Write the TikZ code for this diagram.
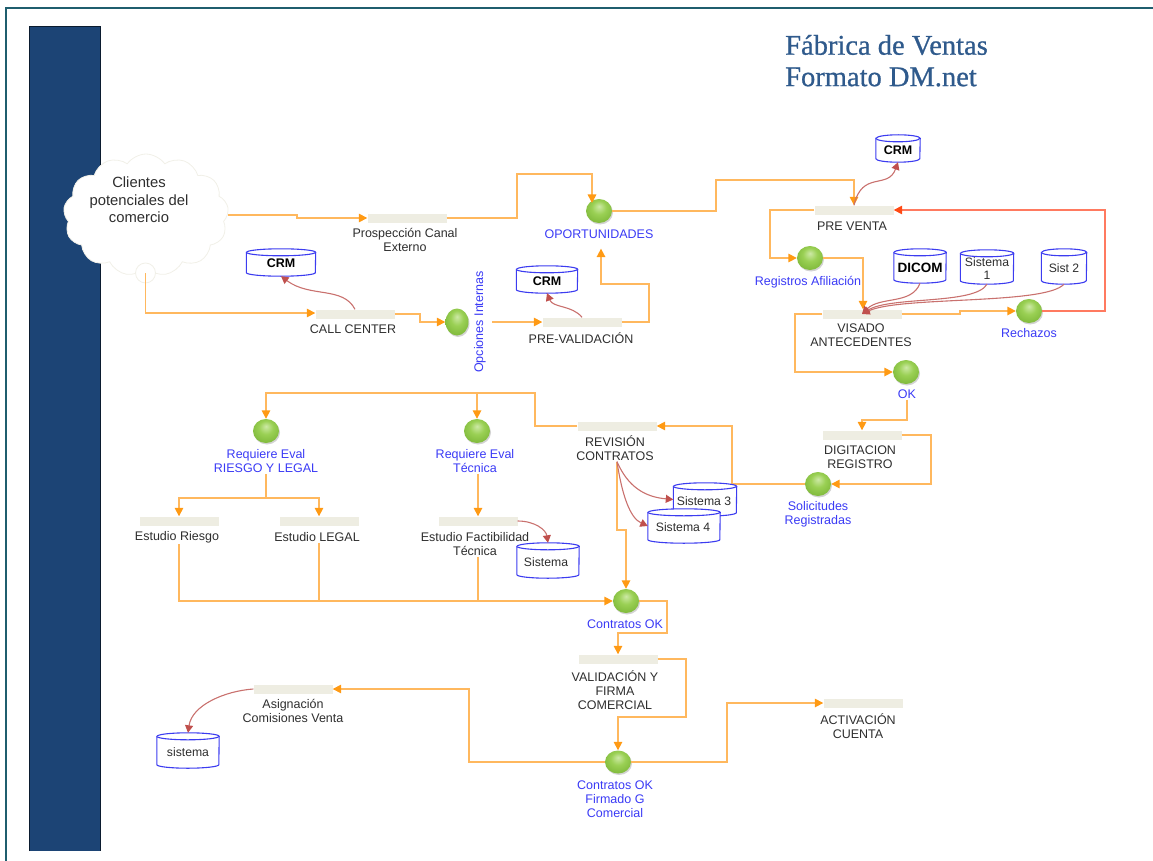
\documentclass[tikz,border=0pt]{standalone}
\usepackage{fontspec}
\setmainfont{Liberation Sans}
\newfontfamily\titlefont[FakeBold=0.8]{Liberation Serif}
\usetikzlibrary{arrows.meta,shapes.geometric,shapes.symbols,shadows}
\definecolor{barblue}{HTML}{1C4475}
\definecolor{frameteal}{HTML}{1F5E6E}
\definecolor{flowline}{HTML}{FFB85E}
\definecolor{flowtip}{HTML}{FF9A14}
\definecolor{backline}{HTML}{FF7A60}
\definecolor{backtip}{HTML}{FF4A14}
\definecolor{dataline}{HTML}{C9716E}
\definecolor{datatip}{HTML}{C0504D}
\definecolor{dbblue}{HTML}{3C3CF0}
\definecolor{lblblue}{HTML}{3A3AF5}
\definecolor{lblgrey}{HTML}{2E2E2E}
\definecolor{tasksand}{HTML}{EEEDE2}
\definecolor{puffline}{HTML}{F1F0E8}
\definecolor{ballhi}{HTML}{CDE9A6}
\definecolor{ballmid}{HTML}{9AD054}
\definecolor{ballgreen}{HTML}{78B334}
\definecolor{titleblue}{HTML}{2F5A8C}
\pgfdeclareradialshading{greenball}{\pgfpoint{0bp}{10bp}}{color(0bp)=(ballhi); color(14bp)=(ballmid); color(34bp)=(ballgreen); color(50bp)=(ballgreen!80!black)}
% store: name, x, y, width, height
\newcommand{\dbstore}[5]{
  \node[dbbox,minimum width=#4,minimum height=#5] (#1) at (#2,#3) {};
  \draw[dbline] (#1.north west)++(0pt,-3.5pt) -- ([yshift=3.5pt]#1.south west)
    arc[start angle=180,end angle=360,x radius=#4/2,y radius=3.5pt]
    -- ([yshift=-3.5pt]#1.north east)
    arc[start angle=0,end angle=180,x radius=#4/2,y radius=3.5pt] -- cycle;
  \draw[dbline] ([yshift=-3.5pt]#1.north west) arc[start angle=180,end angle=360,x radius=#4/2,y radius=3.5pt];
}

\begin{document}
\begin{tikzpicture}[x=1pt,y=-1pt,
    txt/.style={font=\fontsize{12.5}{14}\selectfont,align=center,inner sep=1pt,text=lblgrey},
    blue lbl/.style={txt,text=lblblue},
    task/.style={rectangle,fill=tasksand,inner sep=0pt,minimum width=79pt,minimum height=9pt},
    ball/.style={ellipse,inner sep=0pt,minimum width=26pt,minimum height=24pt,shading=greenball,
      drop shadow={shadow xshift=1pt,shadow yshift=-1.5pt,opacity=.35}},
    dbbox/.style={rectangle,inner sep=0pt},
    dbline/.style={draw=dbblue,line width=1.1pt,fill=white},
    dbtxt/.style={font=\fontsize{12.2}{13}\selectfont,align=center,inner sep=0pt,text=lblgrey},
    dbbold/.style={font=\fontsize{12.5}{13}\bfseries\selectfont,inner sep=0pt,text=black},
    title/.style={anchor=west,inner sep=0pt,text=titleblue,font=\titlefont\fontsize{28.5}{30}\selectfont},
    flow/.style={draw=flowline,line width=1.6pt,-{Triangle[length=8.5pt,width=8.5pt,color=flowtip]}},
    plainflow/.style={draw=flowline,line width=1.6pt},
    back/.style={draw=backline,line width=1.6pt,-{Triangle[length=8.5pt,width=8.5pt,color=backtip]}},
    data/.style={draw=dataline,line width=1.1pt,-{Triangle[length=7.5pt,width=8pt,color=datatip]}}]
  \useasboundingbox (0,0) rectangle (1153,861);

  \draw[frameteal,line width=1.5pt] (6,861)--(6,8)--(1153,8);
  \fill[barblue] (29,26) rectangle (100,851);
  \draw[black!60!barblue,line width=.6pt] (29,851)--(29,26)--(100,26)--(100,851);

  \node[title] (titulo1) at (785,45) {Fábrica de Ventas};
  \node[title] (titulo2) at (785,77) {Formato DM.net};

  % cloud
  \node[cloud,cloud puffs=13,cloud puff arc=110,draw=puffline,fill=white,line width=.8pt,minimum width=165pt,minimum height=122pt,inner sep=0pt] (clientes) at (146,215) {};
  \node[circle,draw=puffline,fill=white,line width=.8pt,minimum size=20pt,inner sep=0pt] (puff) at (145.5,273) {};
  \node[txt,font=\fontsize{14.8}{17.5}\selectfont] (clienteslbl) at (139,200) {Clientes\\potenciales del\\comercio};

  % tasks
  \node[task] (prospeccion) at (407,218) {};
  \node[task] (callcenter) at (355,314) {};
  \node[task] (prevalida) at (582,322) {};
  \node[task] (preventa) at (854,210) {};
  \node[task] (visado) at (862,314) {};
  \node[task] (digitacion) at (862,435) {};
  \node[task] (revision) at (617,426) {};
  \node[task] (riesgo) at (179,521) {};
  \node[task] (legal) at (319,521) {};
  \node[task] (factible) at (478,521) {};
  \node[task] (validacion) at (618,659) {};
  \node[task] (asignacion) at (293,689) {};
  \node[task] (activacion) at (863,703) {};

  \node[txt] (prospeccionlbl) at (405,240) {Prospección Canal\\Externo};
  \node[txt] (callcenterlbl) at (353,329) {CALL CENTER};
  \node[txt] (prevalidalbl) at (581,338) {PRE-VALIDACIÓN};
  \node[txt] (preventalbl) at (852,226) {PRE VENTA};
  \node[txt] (visadolbl) at (861,335) {VISADO\\ANTECEDENTES};
  \node[txt] (digitacionlbl) at (860,457) {DIGITACION\\REGISTRO};
  \node[txt] (revisionlbl) at (615,448) {REVISIÓN\\CONTRATOS};
  \node[txt] (riesgolbl) at (177,537) {Estudio Riesgo};
  \node[txt] (legallbl) at (317,537) {Estudio LEGAL};
  \node[txt] (factiblelbl) at (475,544) {Estudio Factibilidad\\Técnica};
  \node[txt] (validacionlbl) at (615,690) {VALIDACIÓN Y\\FIRMA\\COMERCIAL};
  \node[txt] (asignacionlbl) at (293,711) {Asignación\\Comisiones Venta};
  \node[txt] (activacionlbl) at (858,726) {ACTIVACIÓN\\CUENTA};

  % states
  \node[ball] (oportunidad) at (599,211) {};
  \node[ball,minimum width=23pt,minimum height=27pt] (opciones) at (457,322) {};
  \node[ball] (registros) at (810,258) {};
  \node[ball] (rechazos) at (1029,311) {};
  \node[ball] (okvisado) at (906,372) {};
  \node[ball] (solicitudes) at (818,484) {};
  \node[ball] (reqriesgo) at (266,431) {};
  \node[ball] (reqtecnica) at (477,431) {};
  \node[ball] (contratos) at (626,601) {};
  \node[ball,minimum height=23pt] (firmado) at (618,762) {};

  \node[blue lbl] (oportunidadlbl) at (599,234) {OPORTUNIDADES};
  \node[blue lbl,rotate=90] (opcioneslbl) at (480,322) {Opciones Internas};
  \node[blue lbl] (registroslbl) at (808,282) {Registros Afiliación};
  \node[blue lbl] (rechazoslbl) at (1029,333) {Rechazos};
  \node[blue lbl] (oklbl) at (907,394) {OK};
  \node[blue lbl] (solicitudeslbl) at (818,514) {Solicitudes\\Registradas};
  \node[blue lbl] (reqriesgolbl) at (266,461) {Requiere Eval\\RIESGO Y LEGAL};
  \node[blue lbl] (reqtecnicalbl) at (475,461) {Requiere Eval\\Técnica};
  \node[blue lbl] (contratoslbl) at (625,624) {Contratos OK};
  \node[blue lbl] (firmadolbl) at (615,799) {Contratos OK\\Firmado G\\Comercial};

  % flows
  \draw[flow] (clientes.east |- 297,215)--(297,215)--(297,218)--(prospeccion.west);
  \draw[flow] (prospeccion.east)--(517,218)--(517,174)--(592,174)--(592,203);
  \draw[flow] (puff.center)--(145.5,313)--(callcenter.west |- 0,313);
  \draw[flow] (callcenter.east)--(420,314)--(420,322)--(opciones.west);
  \draw[flow,shorten <=5pt] (opcioneslbl.south)--(prevalida.west);
  \draw[flow,shorten >=9pt] (prevalida.east)--(649,322)--(649,284)--(601,284)--(oportunidadlbl.south -| 601,0);
  \draw[flow] (oportunidad.east)--(716,211)--(716,180)--(854,180)--(preventa.north);
  \draw[flow] (preventa.west)--(770,210)--(770,258)--(registros.west);
  \draw[flow] (registros.east)--(863,258)--(visado.north -| 863,0);
  \draw[flow] (visado.east)--(960,314)--(960,311)--(rechazos.west);
  \draw[back] (rechazos.east)--(1105,311)--(1105,210)--(preventa.east);
  \draw[flow] (visado.west)--(795,314)--(795,372)--(okvisado.west);
  \draw[flow] (oklbl.south)--(907,420)--(862,420)--(digitacion.north);
  \draw[flow] (digitacion.east)--(931,435)--(931,484)--(solicitudes.east);
  \draw[flow] (solicitudes.west)--(732,484)--(732,426)--(revision.east);
  \draw[flow] (revision.west)--(535,426)--(535,393)--(266,393)--(reqriesgo.north);
  \draw[flow] (535,393)--(477,393)--(reqtecnica.north);
  \draw[plainflow] (reqriesgolbl.south)--(266,498);
  \draw[flow] (266,498)--(179,498)--(riesgo.north);
  \draw[flow] (266,498)--(319,498)--(legal.north);
  \draw[flow] (reqtecnicalbl.south -| 478,0)--(factible.north);
  \draw[flow] (riesgolbl.south -| 179,0)--(179,601)--(contratos.west);
  \draw[plainflow] (legallbl.south -| 319,0)--(319,601);
  \draw[plainflow] (factiblelbl.south -| 478,0)--(478,601);
  \draw[flow] (revisionlbl.south -| 617,0)--(617,530)--(626,530)--(contratos.north);
  \draw[flow] (contratos.east)--(667,601)--(667,633)--(618,633)--(validacion.north);
  \draw[flow] (validacion.east)--(686,659)--(686,717)--(618,717)--(firmado.north);
  \draw[flow] (firmado.west)--(469,762)--(469,689)--(asignacion.east);
  \draw[flow] (firmado.east)--(727,762)--(727,703)--(activacion.west);

  % stores
  \dbstore{crmcall}{281}{262.5}{69pt}{27pt}
  \dbstore{crmprev}{547}{279.5}{61pt}{27pt}
  \dbstore{crmventa}{898}{148.5}{44pt}{27pt}
  \dbstore{dicom}{920}{266}{52pt}{34pt}
  \dbstore{sistuno}{987}{267}{53pt}{34pt}
  \dbstore{sistdos}{1064}{266.5}{45pt}{35pt}
  \dbstore{sisttres}{705}{499.5}{63pt}{33pt}
  \dbstore{sistcuatro}{684}{526}{72pt}{34pt}
  \dbstore{sistema}{548}{560.5}{62pt}{35pt}
  \dbstore{sistemab}{188}{750.5}{62pt}{35pt}

  \node[dbbold] (crmcalllbl) at (281,263) {CRM};
  \node[dbbold] (crmprevlbl) at (547,281) {CRM};
  \node[dbbold] (crmventalbl) at (898,150) {CRM};
  \node[dbbold,font=\fontsize{13.5}{14}\bfseries\selectfont] (dicomlbl) at (920,268) {DICOM};
  \node[dbtxt] (sistunolbl) at (987,269) {Sistema\\1};
  \node[dbtxt] (sistdoslbl) at (1064,268) {Sist 2};
  \node[dbtxt] (sisttreslbl) at (704,501) {Sistema 3};
  \node[dbtxt] (sistcuatrolbl) at (683,527) {Sistema 4};
  \node[dbtxt] (sistemalbl) at (546,562) {Sistema};
  \node[dbtxt] (sistemablbl) at (188,752) {sistema};

  % links to stores
  \draw[data] (callcenter.north) .. controls (343,286) and (310,298) .. (crmcall.south);
  \draw[data] (prevalida.north) .. controls (572,305) and (553,308) .. (crmprev.south);
  \draw[data] (preventa.north) .. controls (862,170) and (888,190) .. (crmventa.south);
  \draw[data] (dicom.south) .. controls (912,305) and (880,296) .. (visado.center);
  \draw[data] (sistuno.south) .. controls (975,305) and (890,296) .. (visado.center);
  \draw[data] (sistdos.south) .. controls (1045,305) and (900,296) .. (visado.center);
  \draw[data] (revisionlbl.south -| 617,0) .. controls (628,487) and (645,497) .. (sisttres.west);
  \draw[data] (revisionlbl.south -| 617,0) .. controls (622,495) and (630,518) .. (sistcuatro.west);
  \draw[data] (factible.east) .. controls (535,521) and (546,530) .. (sistema.north);
  \draw[data] (asignacion.west) .. controls (225,691) and (192,705) .. (sistemab.north);
\end{tikzpicture}
\end{document}
